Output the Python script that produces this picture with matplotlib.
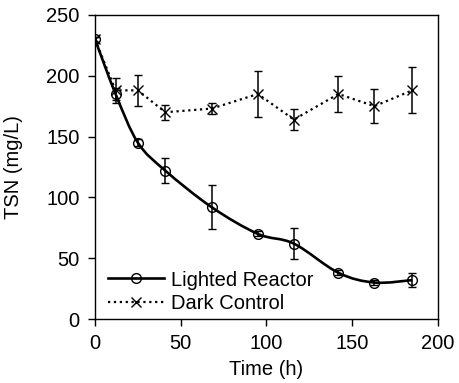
import numpy as np
import matplotlib.pyplot as plt
from matplotlib.path import Path
from matplotlib.patches import PathPatch
from matplotlib.lines import Line2D

plt.rcParams['font.family'] = ['Liberation Sans', 'DejaVu Sans']

# Lighted reactor
t_light = [0, 12, 25, 41, 68, 95, 116, 142, 163, 185]
tsn_light = [230, 185, 145, 122, 92, 70, 62, 38, 30, 32]
err_light = [2, 5, 3, 10.5, 18, 2, 12.5, 2, 2, 6]

# Dark control
t_dark = [0, 12, 25, 41, 68, 95, 116, 142, 163, 185]
tsn_dark = [230, 188, 188, 170, 173, 185, 164, 185, 175, 188]
err_dark = [2, 10, 12.5, 6, 4.5, 19, 9, 15, 14, 19]


def smooth_path(x, y):
    # cubic bezier through the points (catmull-rom style control points)
    p = np.column_stack([x, y]).astype(float)
    n = len(p)
    verts = [p[0]]
    codes = [Path.MOVETO]
    for i in range(n - 1):
        p0 = p[i - 1] if i > 0 else p[i]
        p3 = p[i + 2] if i + 2 < n else p[i + 1]
        c1 = p[i] + (p[i + 1] - p0) / 6
        c2 = p[i + 1] - (p3 - p[i]) / 6
        verts += [c1, c2, p[i + 1]]
        codes += [Path.CURVE4] * 3
    return Path(verts, codes)


fs = 14.5

fig = plt.figure(figsize=(4.59, 3.83), dpi=100)
ax = fig.add_axes([0.207, 0.167, 0.747, 0.794])

ax.add_patch(PathPatch(smooth_path(t_light, tsn_light), fill=False,
                       edgecolor='black', lw=1.9, zorder=3))
ax.errorbar(t_light, tsn_light, yerr=err_light, fmt='o', ms=7, mfc='none',
            mec='black', mew=1.0, ecolor='black', elinewidth=1.1,
            capsize=3, capthick=1.1, zorder=4)

ax.errorbar(t_dark, tsn_dark, yerr=err_dark, fmt='x', ls=':', color='black',
            lw=1.6, ms=7, mew=1.0, elinewidth=1.1, capsize=3,
            capthick=1.1, zorder=4)

ax.set_xlim(0, 200)
ax.set_ylim(0, 250)
ax.set_xticks([0, 50, 100, 150, 200])
ax.set_yticks([0, 50, 100, 150, 200, 250])
ax.tick_params(labelsize=fs, direction='out', length=5, width=1, pad=6)
for s in ax.spines.values():
    s.set_linewidth(1.0)
ax.set_xlabel('Time (h)', fontsize=fs)
ax.set_ylabel('TSN (mg/L)', fontsize=fs)
ax.xaxis.set_label_coords(0.5, -0.135)
ax.yaxis.set_label_coords(-0.21, 0.5)

handles = [
    Line2D([], [], color='black', lw=1.9, marker='o', ms=7, mfc='none', mew=1.0),
    Line2D([], [], color='black', lw=1.6, ls=':', marker='x', ms=7, mew=1.0),
]
ax.legend(handles, ['Lighted Reactor', 'Dark Control'], loc='lower left',
          bbox_to_anchor=(0.038, 0.02), frameon=False, fontsize=fs,
          handlelength=2.8, handletextpad=0.33, labelspacing=0.22,
          borderaxespad=0, borderpad=0, numpoints=1)

fig.savefig('out.png', dpi=100)
